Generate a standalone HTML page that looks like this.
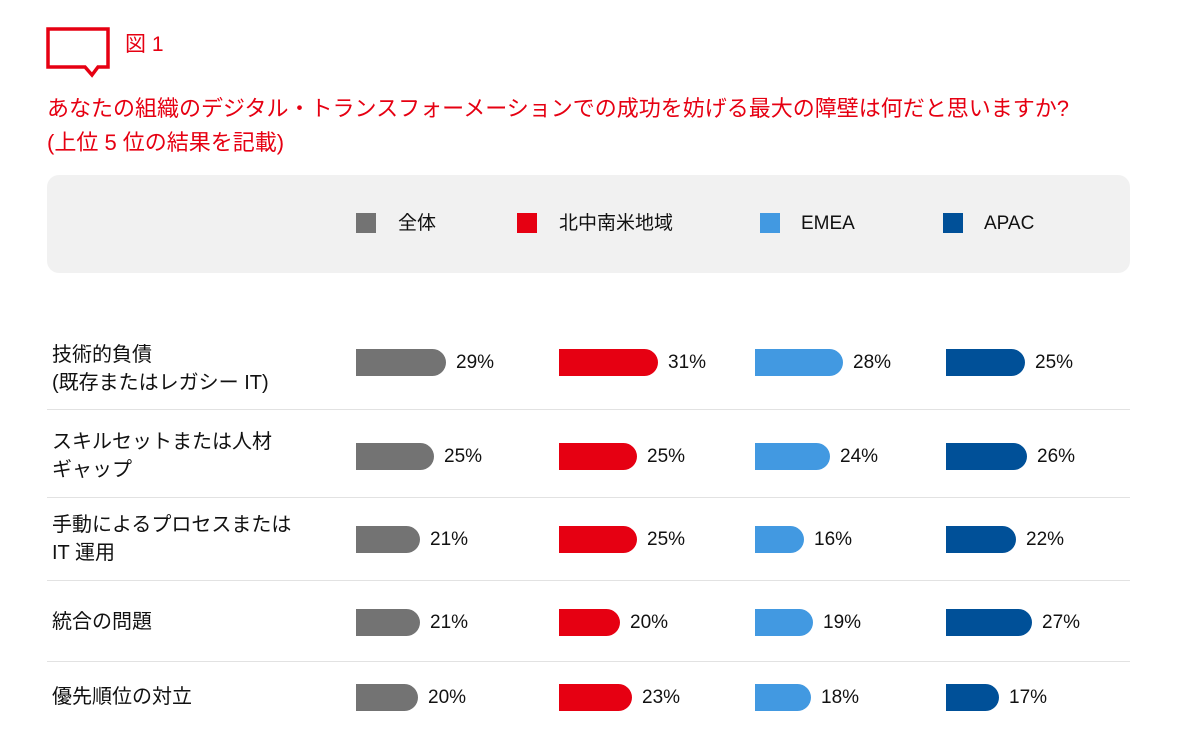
<!DOCTYPE html>
<html><head><meta charset="utf-8"><style>
body{margin:0;width:1201px;height:744px;background:#fff;font-family:"Liberation Sans","Noto Sans CJK JP",sans-serif;position:relative;overflow:hidden}
.a{position:absolute;white-space:nowrap}
.t{color:#e60012;font-size:22px;line-height:28px}
.lg{position:absolute;left:47px;top:175px;width:1083px;height:98px;background:#f1f1f1;border-radius:12px}
.sq{position:absolute;width:20px;height:20px;top:213px}
.ll{position:absolute;top:211px;font-size:19px;color:#111;line-height:26px;height:26px}
.rl{position:absolute;left:52px;font-size:20px;color:#111;line-height:28px}
.b{position:absolute;height:27px;border-radius:0 14px 14px 0}
.v{position:absolute;font-size:19px;color:#111;line-height:27px;height:27px}
.sep{position:absolute;left:47px;width:1083px;height:1px;background:#e2e2e2}
</style></head><body>
<svg class="a" style="left:45px;top:26px" width="68" height="54"><path d="M3 3H63V41H53L47 49L40 41H3Z" fill="none" stroke="#e60012" stroke-width="3.5" stroke-linejoin="miter"/></svg>
<div class="a t" style="left:125px;top:31px;font-size:21px">図 1</div>
<div class="a t" style="left:47px;top:95px">あなたの組織のデジタル・トランスフォーメーションでの成功を妨げる最大の障壁は何だと思いますか?</div>
<div class="a t" style="left:47px;top:129px">(上位 5 位の結果を記載)</div>
<div class="lg"></div>
<div class="sq" style="left:356px;background:#737373"></div><div class="ll" style="left:398px">全体</div>
<div class="sq" style="left:517px;background:#e60012"></div><div class="ll" style="left:559px">北中南米地域</div>
<div class="sq" style="left:760px;background:#4299e1"></div><div class="ll" style="left:801px">EMEA</div>
<div class="sq" style="left:943px;background:#005098"></div><div class="ll" style="left:984px">APAC</div>
<div class="rl" style="top:341px">技術的負債<br>(既存またはレガシー IT)</div>
<div class="rl" style="top:428px">スキルセットまたは人材<br>ギャップ</div>
<div class="rl" style="top:511px">手動によるプロセスまたは<br>IT 運用</div>
<div class="rl" style="top:608px">統合の問題</div>
<div class="rl" style="top:683px">優先順位の対立</div>
<div class="sep" style="top:409px"></div><div class="sep" style="top:497px"></div><div class="sep" style="top:580px"></div><div class="sep" style="top:661px"></div>
<div id="bars"></div>
<script>
var rows=[362,456,539,622,697];
var cols=[[356,'#737373',[446,434,420,420,418],[29,25,21,21,20]],[559,'#e60012',[658,637,637,620,632],[31,25,25,20,23]],[755,'#4299e1',[843,830,804,813,811],[28,24,16,19,18]],[946,'#005098',[1025,1027,1016,1032,999],[25,26,22,27,17]]];
var h='';cols.forEach(function(c){rows.forEach(function(y,i){h+='<div class="b" style="left:'+c[0]+'px;top:'+(y-13)+'px;width:'+(c[2][i]-c[0])+'px;background:'+c[1]+'"></div><div class="v" style="left:'+(c[2][i]+10)+'px;top:'+(y-13)+'px">'+c[3][i]+'%</div>';});});
document.getElementById('bars').innerHTML=h;
</script>
</body></html>
